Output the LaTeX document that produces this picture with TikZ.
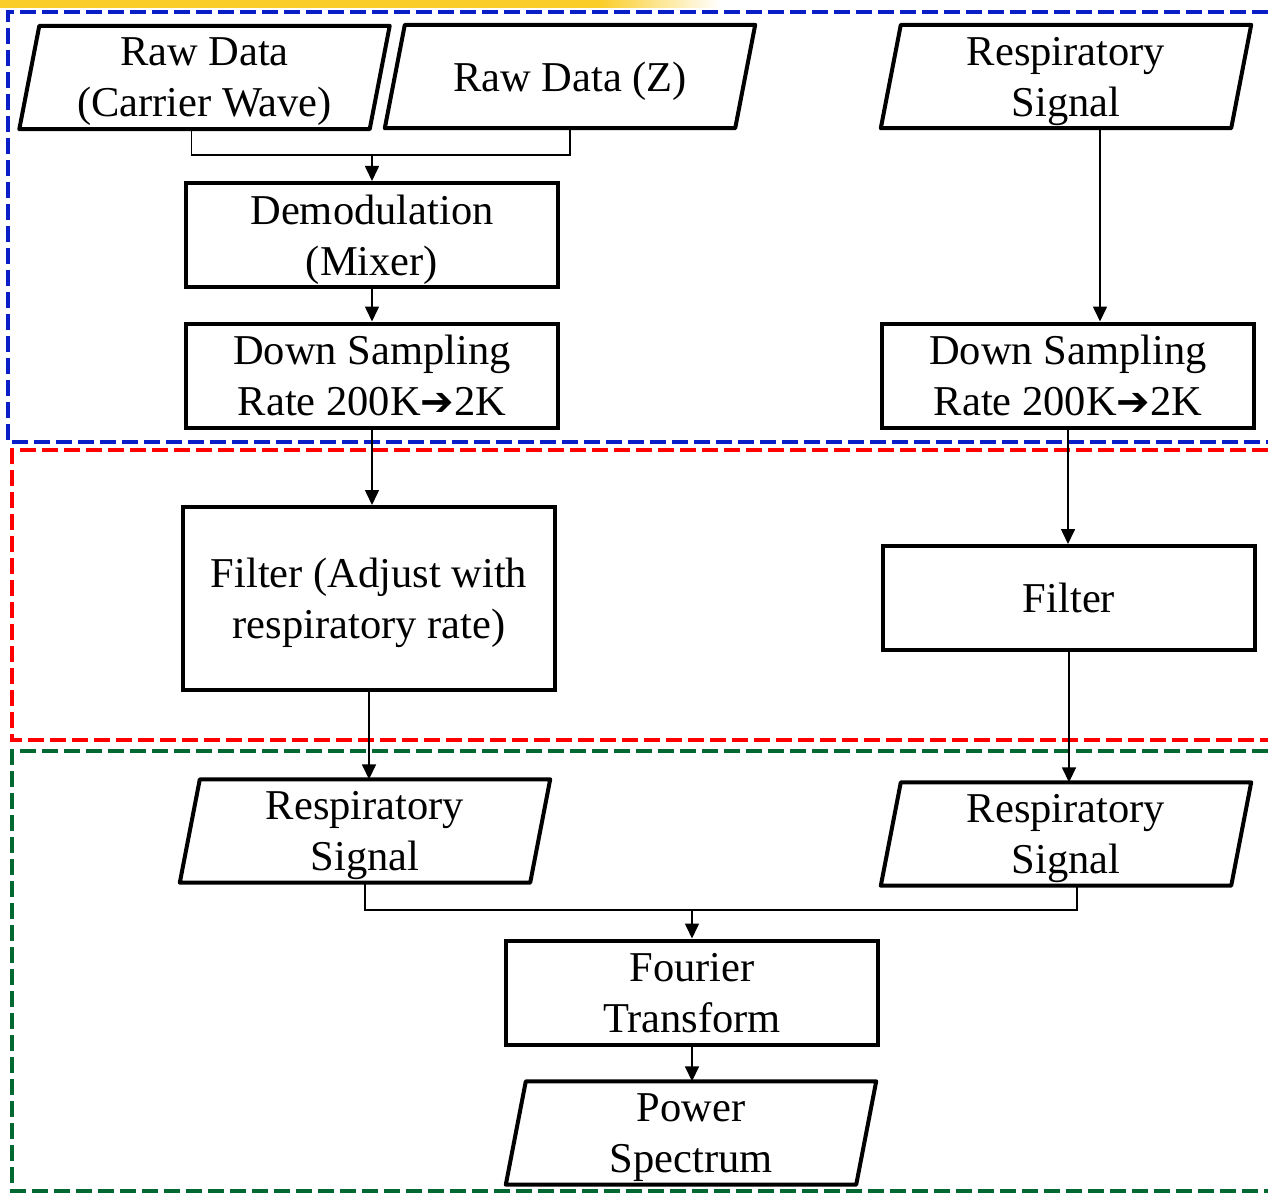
\documentclass[tikz,border=0pt]{standalone}
\usepackage{fontspec}
\setmainfont{Liberation Serif}
\newfontfamily\arrowfont{DejaVu Sans}
\usetikzlibrary{arrows.meta,calc}
\definecolor{frameblue}{RGB}{10,30,200}
\definecolor{framered}{RGB}{255,0,0}
\definecolor{framegreen}{RGB}{0,105,50}
\definecolor{topgold}{RGB}{250,205,40}
\newcommand{\rarr}{{\arrowfont\fontsize{40}{40}\selectfont\char"2794}}
\begin{document}
\begin{tikzpicture}[x=1pt,y=-1pt,
  txt/.style={align=center,font=\fontsize{42.5}{51}\selectfont,inner sep=0pt,text depth=0pt},
  procbox/.style={txt,draw,line width=4pt,minimum width=372pt,minimum height=104pt},
  iobox/.style={txt,minimum width=350pt,minimum height=103pt},
  conn/.style={line width=1.6pt},
  arr/.style={conn,-{Triangle[length=15pt,width=14pt]}},
  frame/.style={line width=3.5pt,dash pattern=on 16pt off 6pt}
]
\useasboundingbox (0,0) rectangle (1268,1193);
% top gold strip
\fill[topgold] (0,0) rectangle (600,8);
\shade[left color=topgold,right color=white] (599,0) rectangle (720,8);

% dashed frames
\draw[frame,frameblue] (1290,12) -- (8,12) -- (8,442) -- (1290,442);
\draw[frame,framered] (1290,450) -- (12,450) -- (12,740) -- (1290,740);
\draw[frame,framegreen] (1290,751) -- (12,751) -- (12,1191) -- (1290,1191);

% input/output parallelogram nodes
\node[iobox] (rawcw) at (204.5,77.5) {Raw Data\\(Carrier Wave)};
\node[iobox] (rawz) at (570,76.5) {Raw Data (Z)};
\node[iobox] (rtop) at (1066,76.5) {Respiratory\\Signal};
\node[iobox] (rbl) at (365,831) {Respiratory\\Signal};
\node[iobox] (rbr) at (1066,834) {Respiratory\\Signal};
\node[iobox] (power) at (691,1133) {Power\\Spectrum};
\foreach \n in {rawcw,rawz,rtop,rbl,rbr,power}{
  \draw[line width=4pt,line join=round]
    ([xshift=10pt]\n.north west) -- ([xshift=10pt]\n.north east)
    -- ([xshift=-10pt]\n.south east) -- ([xshift=-10pt]\n.south west) -- cycle;
}

% process nodes
\node[procbox] (demod) at (372,235) {Demodulation\\(Mixer)};
\node[procbox] (dsl) at (372,375.5) {Down Sampling\\Rate 200K\rarr2K};
\node[procbox] (dsr) at (1068,375.5) {Down Sampling\\Rate 200K\rarr2K};
\node[procbox,minimum height=183pt] (fl) at (369,598.5) {Filter (Adjust with\\respiratory rate)};
\node[procbox] (fr) at (1069,598) {Filter};
\node[procbox] (fourier) at (692,992.5) {Fourier\\Transform};

% connectors
\coordinate (j1) at (demod.north |- 0,155);
\draw[conn] ([xshift=-13pt]rawcw.south) |- (j1) -| (rawz.south);
\draw[arr] (j1) -- (demod.north);
\draw[arr] (demod.south) -- (dsl.north);
\draw[arr] (dsl.south) -- (dsl.south |- fl.north);
\draw[arr] (fl.south) -- (fl.south |- rbl.north);
\draw[arr] ([xshift=34pt]rtop.south) -- ([xshift=34pt]rtop.south |- dsr.north);
\draw[arr] (dsr.south) -- (dsr.south |- fr.north);
\draw[arr] (fr.south) -- (fr.south |- rbr.north);
\coordinate (j2) at (fourier.north |- 0,910);
\draw[conn] (rbl.south) |- (j2) -| ([xshift=11pt]rbr.south);
\draw[arr] (j2) -- (fourier.north);
\draw[arr] (fourier.south) -- (fourier.south |- power.north);
\end{tikzpicture}
\end{document}
